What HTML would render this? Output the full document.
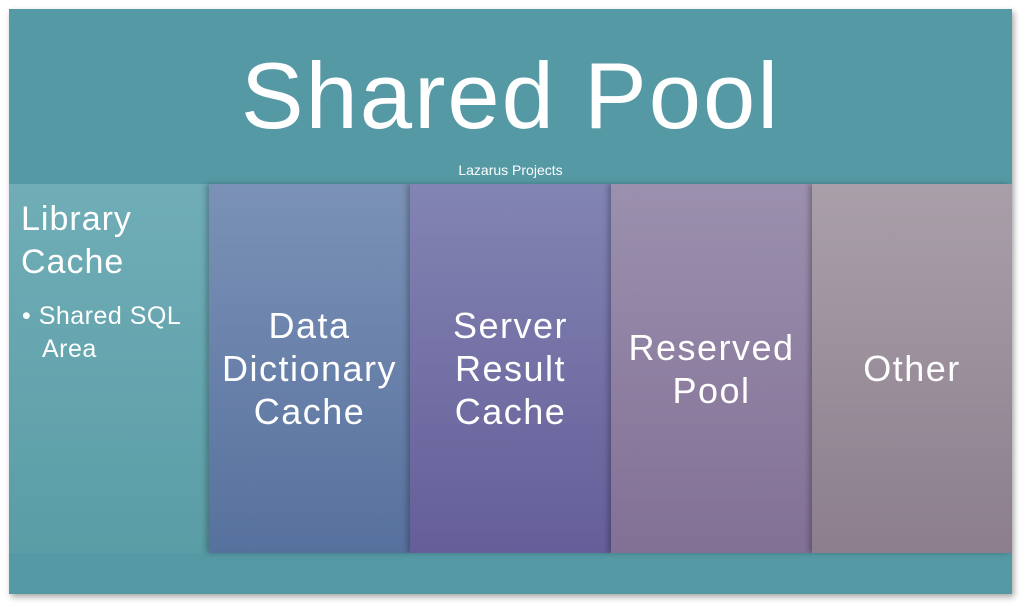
<!DOCTYPE html>
<html><head><style>
body{margin:0;width:1024px;height:612px;background:#fff;position:relative;overflow:hidden;font-family:"Liberation Sans",sans-serif;color:#fff}
.frame{position:absolute;left:9px;top:9px;width:1003px;height:585px;background:#5599a5;box-shadow:2px 3px 6px rgba(0,0,0,.35)}
.title{position:absolute;left:0;top:32px;width:1003px;text-align:center;font-size:94px;line-height:110px;letter-spacing:2px}
.sub{position:absolute;left:0;top:153px;width:1003px;text-align:center;font-size:14px}
.col{position:absolute;top:175px;height:369px;box-shadow:-3px 0 5px rgba(0,0,0,.25);display:flex;align-items:center;justify-content:center;text-align:center;font-size:36px;line-height:43px;letter-spacing:1.5px}
</style></head><body>
<div class="frame">
<div class="title">Shared Pool</div>
<div class="sub">Lazarus Projects</div>
<div class="col" style="left:0;width:200px;background:linear-gradient(#70adb7,#5a9da6);box-shadow:none;display:block;text-align:left">
<div style="position:absolute;left:12px;top:14px;font-size:34px;line-height:43px;letter-spacing:1px">Library<br>Cache</div>
<div style="position:absolute;left:13px;top:116px;font-size:25px;line-height:33px;letter-spacing:.5px">•&nbsp;Shared SQL<br><span style="padding-left:20px">Area</span></div>
</div>
<div class="col" style="left:200px;width:201px;background:linear-gradient(#7b92b6,#57719e)">Data<br>Dictionary<br>Cache</div>
<div class="col" style="left:401px;width:201px;background:linear-gradient(#8284b2,#655e99)">Server<br>Result<br>Cache</div>
<div class="col" style="left:602px;width:201px;background:linear-gradient(#9b90ae,#827095)">Reserved<br>Pool</div>
<div class="col" style="left:803px;width:200px;background:linear-gradient(#a99fa9,#8c7e8d)">Other</div>
</div>
</body></html>
